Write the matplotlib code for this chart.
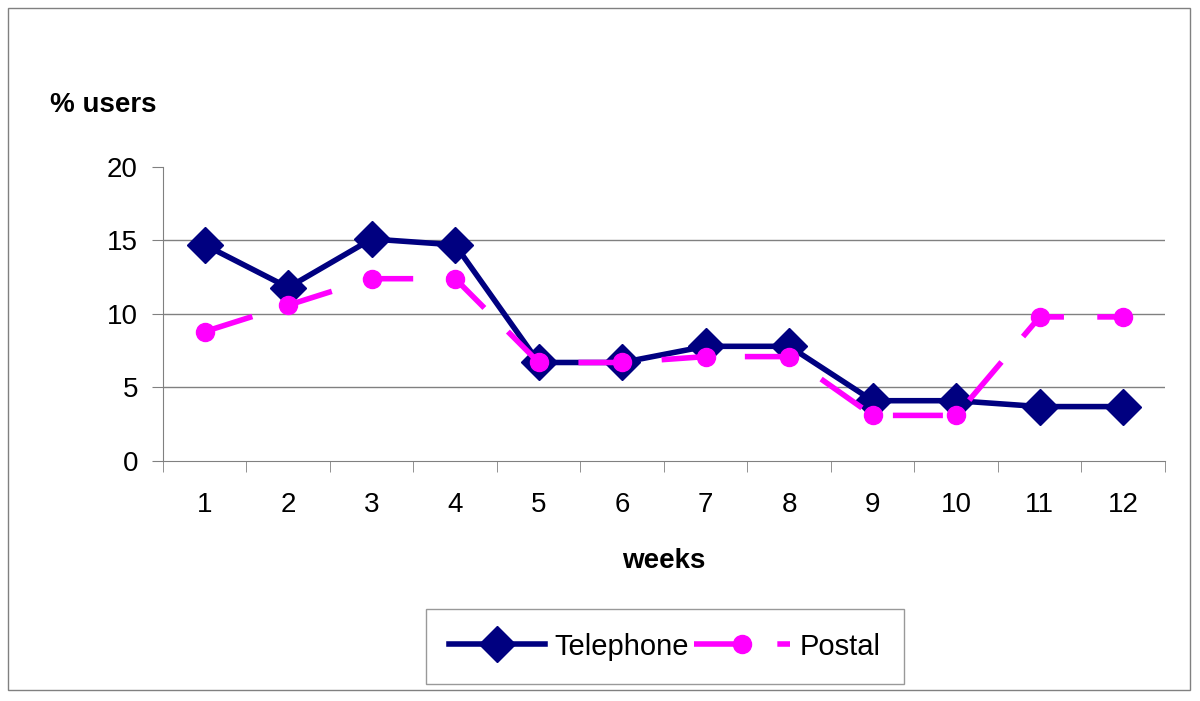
import matplotlib.pyplot as plt
from matplotlib.patches import Rectangle

weeks = list(range(1, 13))
telephone = [14.7, 11.8, 15.1, 14.7, 6.7, 6.7, 7.8, 7.8, 4.1, 4.1, 3.7, 3.7]
postal = [8.8, 10.6, 12.4, 12.4, 6.7, 6.7, 7.1, 7.1, 3.1, 3.1, 9.8, 9.8]

plt.rcParams['font.family'] = ['Liberation Sans', 'DejaVu Sans']

fig = plt.figure(figsize=(12, 7.01), dpi=100)
ax = fig.add_axes([0.1358, 0.3424, 0.835, 0.4194])

ax.plot(weeks, telephone, color='#000080', lw=4, marker='D', ms=18,
        label='Telephone', zorder=3)
ax.plot(weeks, postal, color='#ff00ff', lw=4, marker='o', ms=13,
        dashes=(9, 6), label='Postal', zorder=4)

ax.set_xlim(0.5, 12.5)
ax.set_ylim(0, 20)
ax.set_yticks([0, 5, 10, 15, 20])
ax.set_xticks(weeks)
ax.set_xticks([w + 0.5 for w in range(0, 13)], minor=True)
ax.tick_params(axis='x', which='major', length=0, pad=22, labelsize=20)
ax.tick_params(axis='x', which='minor', length=8, color='#808080', direction='out')
ax.tick_params(axis='y', length=8, color='#808080', labelsize=20, pad=10)
for y in [5, 10, 15]:
    ax.axhline(y, color='#808080', lw=1, zorder=1)
for s in ['top', 'right']:
    ax.spines[s].set_visible(False)
for s in ['left', 'bottom']:
    ax.spines[s].set_color('#808080')

ax.set_xlabel('weeks', fontsize=20, fontweight='bold', labelpad=22)
fig.text(0.042, 0.85, '% users', fontsize=20, fontweight='bold', ha='left', va='center')

leg = fig.legend(loc='center', bbox_to_anchor=(0.5538, 0.0777), ncol=2,
                 fontsize=21, frameon=True, fancybox=False, edgecolor='#808080',
                 handlelength=3.3, borderpad=0.8, borderaxespad=0,
                 columnspacing=0.2, handletextpad=0.3)
leg.get_frame().set_linewidth(1)

fig.patches.append(Rectangle((0.007, 0.016), 0.985, 0.973, transform=fig.transFigure,
                             fill=False, edgecolor='#808080', lw=1))

fig.savefig('out.png', dpi=100)
